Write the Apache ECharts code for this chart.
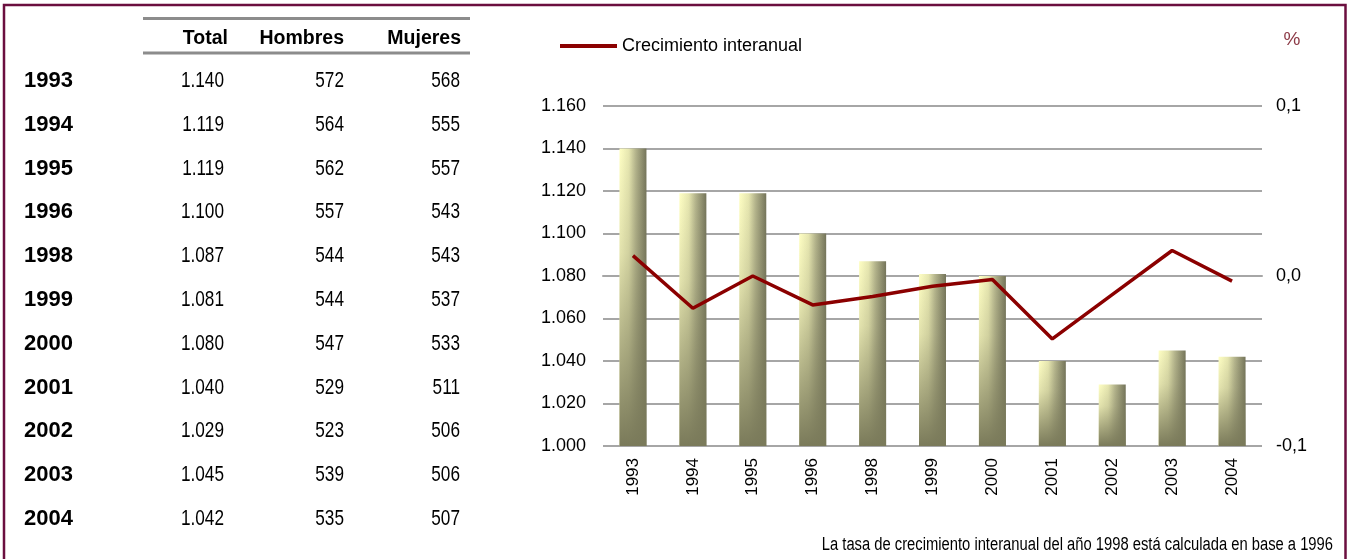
<!DOCTYPE html>
<html>
<head>
<meta charset="utf-8">
<script src="https://cdn.jsdelivr.net/npm/echarts@6/dist/echarts.min.js"></script>
<style>
  html, body { margin: 0; padding: 0; background: #fff; }
  #chart { width: 1347px; height: 559px; }
</style>
</head>
<body>
<div id="chart"></div>
<script>
'use strict';

// datos (miles de personas)
var years = ['1993', '1994', '1995', '1996', '1998', '1999', '2000', '2001', '2002', '2003', '2004'];
var totals = [1140, 1119, 1119, 1100, 1087, 1081, 1080, 1040, 1029, 1045, 1042];
var hombres = [572, 564, 562, 557, 544, 544, 547, 529, 523, 539, 535];
var mujeres = [568, 555, 557, 543, 543, 537, 533, 511, 506, 506, 507];
// tasa de crecimiento interanual (eje derecho)
var crecimiento = [0.012, -0.019, 0.000, -0.017, -0.012, -0.006, -0.002, -0.037, -0.011, 0.015, -0.003];
var headers = ['Total', 'Hombres', 'Mujeres'];
var serieName = 'Crecimiento interanual';
var nota = 'La tasa de crecimiento interanual del año 1998 está calculada en base a 1996';

var FONT = "'Liberation Sans', Arial, sans-serif";

function miles(v) {
  var s = String(Math.round(v));
  if (s.length > 3) {
    s = s.slice(0, s.length - 3) + '.' + s.slice(s.length - 3);
  }
  return s;
}

function txt(text, x, y, size, align, weight, sx, color) {
  return {
    type: 'text',
    x: x,
    y: y,
    scaleX: sx || 1,
    style: {
      text: text,
      fontSize: size,
      fontFamily: FONT,
      fontWeight: weight || 'normal',
      fill: color || '#000',
      align: align,
      textAlign: align,
      verticalAlign: 'middle',
      textVerticalAlign: 'middle'
    }
  };
}

// tabla de la izquierda
var graphics = [];
graphics.push({
  type: 'rect',
  shape: { x: 4, y: 5, width: 1341.5, height: 600 },
  style: { fill: 'none', stroke: '#6b0f3f', lineWidth: 2.5 }
});
graphics.push({ type: 'line', shape: { x1: 143, y1: 18.5, x2: 470, y2: 18.5 }, style: { stroke: '#8c8c8c', lineWidth: 3 } });
graphics.push({ type: 'line', shape: { x1: 143, y1: 53, x2: 470, y2: 53 }, style: { stroke: '#8c8c8c', lineWidth: 3 } });

var colRight = [228, 344, 461];
headers.forEach(function (h, i) {
  graphics.push(txt(h, colRight[i], 38.5, 19.5, 'right', 'bold'));
});

years.forEach(function (y, i) {
  var yy = 81 + i * 43.8;
  graphics.push(txt(y, 24, yy, 22, 'left', 'bold'));
  graphics.push(txt(miles(totals[i]), colRight[0] - 4, yy, 21.5, 'right', 'normal', 0.8));
  graphics.push(txt(String(hombres[i]), colRight[1], yy, 21.5, 'right', 'normal', 0.8));
  graphics.push(txt(String(mujeres[i]), colRight[2] - 1, yy, 21.5, 'right', 'normal', 0.8));
});

graphics.push(txt('%', 1292, 40, 19, 'center', 'normal', 1, '#8c3a46'));
graphics.push(txt(nota, 1333, 545, 18, 'right', 'normal', 0.82));

var chart = echarts.init(document.getElementById('chart'));

var option = {
  animation: false,
  backgroundColor: '#fff',
  textStyle: { fontFamily: FONT },
  legend: {
    left: 560,
    top: 37,
    padding: 0,
    itemWidth: 57,
    itemHeight: 4,
    itemGap: 4,
    textStyle: { fontSize: 18, color: '#000', fontFamily: FONT, padding: [4, 0, 0, 0] },
    data: [{ name: serieName, icon: 'rect' }]
  },
  grid: { left: 603, right: 85, top: 106, bottom: 113, containLabel: false },
  xAxis: {
    type: 'category',
    data: years,
    axisLine: { lineStyle: { color: '#a6a6a6', width: 2 } },
    axisTick: { show: false },
    axisLabel: { rotate: 90, margin: 12, fontSize: 17, color: '#000', fontFamily: FONT }
  },
  yAxis: [{
    type: 'value',
    min: 1000,
    max: 1160,
    interval: 20,
    axisLine: { show: false },
    axisTick: { show: false },
    axisLabel: { margin: 17, fontSize: 18, color: '#000', fontFamily: FONT, formatter: miles },
    splitLine: { lineStyle: { color: '#a6a6a6', width: 2 } }
  }, {
    type: 'value',
    min: -0.1,
    max: 0.1,
    interval: 0.1,
    axisLine: { show: false },
    axisTick: { show: false },
    splitLine: { show: false },
    axisLabel: {
      margin: 14,
      fontSize: 18,
      color: '#000',
      fontFamily: FONT,
      formatter: function (v) {
        return v.toFixed(1).replace('.', ',');
      }
    }
  }],
  series: [{
    name: 'Total',
    type: 'bar',
    barWidth: 27,
    data: totals,
    itemStyle: {
      color: new echarts.graphic.LinearGradient(0, 0, 1, 0, [
        { offset: 0, color: '#ffffc4' },
        { offset: 0.35, color: '#e6e6b0' },
        { offset: 0.6, color: '#b4b48c' },
        { offset: 1, color: '#74745a' }
      ])
    }
  }, {
    name: 'sombra',
    type: 'bar',
    barWidth: 27,
    barGap: '-100%',
    data: totals,
    silent: true,
    itemStyle: {
      color: new echarts.graphic.LinearGradient(0, 0, 0, 1, [
        { offset: 0, color: 'rgba(122,122,90,0)' },
        { offset: 0.35, color: 'rgba(122,122,90,0.2)' },
        { offset: 1, color: 'rgba(122,122,90,1)' }
      ])
    }
  }, {
    name: serieName,
    type: 'line',
    yAxisIndex: 1,
    data: crecimiento,
    symbol: 'none',
    color: '#8b0000',
    lineStyle: { color: '#8b0000', width: 3.5 },
    z: 5
  }],
  graphic: graphics
};

chart.setOption(option);
</script>
</body>
</html>
